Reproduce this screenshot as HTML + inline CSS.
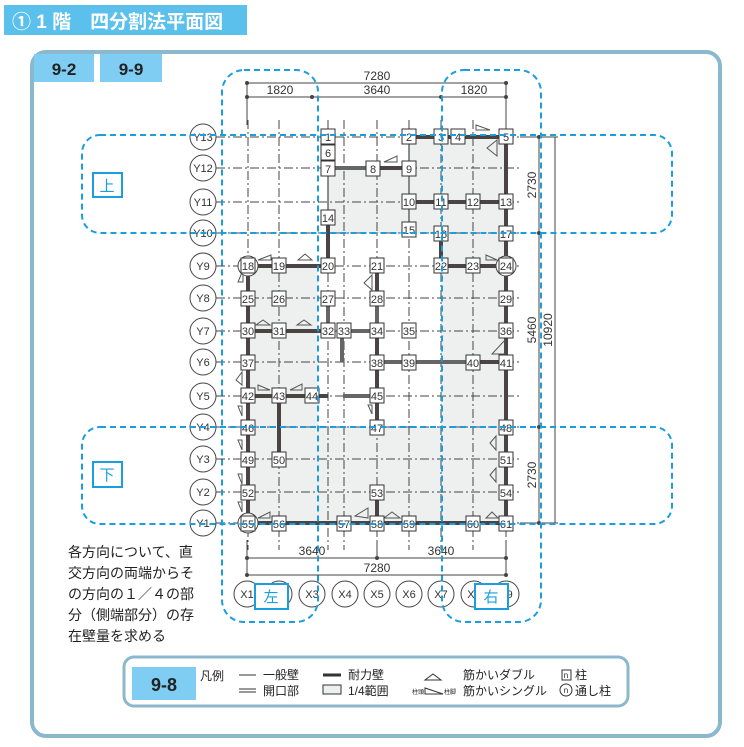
<!DOCTYPE html>
<html><head><meta charset="utf-8"><style>
body{margin:0;background:#fff;}
svg{display:block;font-family:"Liberation Sans","Noto Sans CJK JP",sans-serif;}
.g{stroke:#444;stroke-width:1;stroke-dasharray:9 3 2 3;fill:none}
.n rect{fill:#fff;stroke:#333;stroke-width:1}
.n text{font-size:11px;text-anchor:middle;fill:#333}
.w{stroke:#4a4444;stroke-width:4;fill:none}
.d{stroke:#666;stroke-width:4;fill:none}
.b{stroke:#1a9ee0;stroke-width:2;stroke-dasharray:6 4;fill:none}
.c circle{fill:#fff;stroke:#444;stroke-width:1}
.c text{font-size:11px;text-anchor:middle;fill:#333}
.dim{stroke:#444;stroke-width:1}
.dt{font-size:12px;fill:#333;text-anchor:middle}
.t{fill:none;stroke:#555;stroke-width:1}
</style></head><body>
<svg width="744" height="747" viewBox="0 0 744 747">
<rect x="4" y="5" width="243" height="30" fill="#5bc0eb"/>
<text x="12" y="28" font-size="19" font-weight="bold" fill="#fff">① 1 階　四分割法平面図</text>
<rect x="32" y="52" width="688" height="684" rx="14" fill="none" stroke="#8bb8cc" stroke-width="4"/>
<rect x="34" y="54" width="60" height="28" fill="#7fcdf2"/>
<rect x="100" y="54" width="62" height="28" fill="#7fcdf2"/>
<text x="64" y="75" font-size="17" font-weight="bold" text-anchor="middle" fill="#222">9-2</text>
<text x="131" y="75" font-size="17" font-weight="bold" text-anchor="middle" fill="#222">9-9</text>

<g fill="#eef0f0">
<polygon points="328,168 409,168 409,137 506,137 506,233 328,233"/>
<rect x="248" y="265" width="70" height="259"/>
<rect x="441" y="233" width="65" height="291"/>
<rect x="248" y="427" width="258" height="97"/>
</g>

<g class="g">
<line x1="248" y1="120" x2="248" y2="550"/><line x1="279" y1="120" x2="279" y2="550"/>
<line x1="328" y1="120" x2="328" y2="550"/><line x1="344" y1="120" x2="344" y2="550"/>
<line x1="377" y1="120" x2="377" y2="550"/><line x1="409" y1="120" x2="409" y2="550"/>
<line x1="441" y1="120" x2="441" y2="550"/><line x1="473" y1="120" x2="473" y2="550"/>
<line x1="506" y1="120" x2="506" y2="550"/>
<line x1="216" y1="137" x2="520" y2="137"/><line x1="216" y1="168" x2="520" y2="168"/>
<line x1="216" y1="202" x2="520" y2="202"/><line x1="216" y1="233" x2="520" y2="233"/>
<line x1="216" y1="266" x2="520" y2="266"/><line x1="216" y1="298" x2="520" y2="298"/>
<line x1="216" y1="331" x2="520" y2="331"/><line x1="216" y1="362" x2="520" y2="362"/>
<line x1="216" y1="396" x2="520" y2="396"/><line x1="216" y1="427" x2="520" y2="427"/>
<line x1="216" y1="459" x2="520" y2="459"/><line x1="216" y1="492" x2="520" y2="492"/>
<line x1="216" y1="523" x2="520" y2="523"/>
</g>

<g stroke="#444" stroke-width="1.2">
<line x1="409" y1="137" x2="409" y2="233"/><line x1="328" y1="168" x2="328" y2="217"/>
</g>
<g class="w">
<line x1="409" y1="137" x2="506" y2="137"/>
<line x1="373" y1="168" x2="409" y2="168"/>
<line x1="409" y1="202" x2="506" y2="202"/>
<line x1="506" y1="137" x2="506" y2="523"/>
<line x1="328" y1="217" x2="328" y2="266"/>
<line x1="441" y1="233" x2="441" y2="266"/>
<line x1="248" y1="266" x2="328" y2="266"/>
<line x1="441" y1="266" x2="506" y2="266"/>
<line x1="377" y1="266" x2="377" y2="298"/>
<line x1="377" y1="331" x2="377" y2="427"/>
<line x1="248" y1="266" x2="248" y2="523"/>
<line x1="248" y1="331" x2="328" y2="331"/>
<line x1="473" y1="362" x2="506" y2="362"/>
<line x1="248" y1="396" x2="328" y2="396"/>
<line x1="279" y1="396" x2="279" y2="459"/>
<line x1="248" y1="523" x2="506" y2="523"/>
<line x1="377" y1="492" x2="377" y2="523"/>
</g>
<g class="d">
<line x1="328" y1="168" x2="373" y2="168"/>
<line x1="377" y1="298" x2="377" y2="331"/>
<line x1="328" y1="298" x2="328" y2="331"/>
<line x1="344" y1="331" x2="377" y2="331"/>
<line x1="342" y1="331" x2="342" y2="362"/>
<line x1="377" y1="362" x2="473" y2="362"/>
<line x1="343" y1="396" x2="377" y2="396"/>
</g>

<g class="t">
<polygon points="476,130 490,130 476,125"/><polygon points="397,162 384,162 397,156"/>
<polygon points="497,140 497,156 487,148"/><polygon points="258,260 271,260 271,255"/>
<polygon points="298,260 312,260 305,254"/><polygon points="243,270 243,282 238,282"/>
<polygon points="372,275 372,290 364,283"/><polygon points="486,255 497,260 486,260"/>
<polygon points="256,325 270,325 263,320"/><polygon points="297,325 311,325 304,320"/>
<polygon points="492,354 505,354 505,340"/><polygon points="242,372 242,385 236,380"/>
<polygon points="258,385 270,390 258,390"/><polygon points="290,390 302,390 302,384"/>
<polygon points="372,405 372,414 368,405"/><polygon points="238,406 242,406 242,416"/>
<polygon points="238,440 242,440 242,450"/><polygon points="238,474 242,474 242,484"/>
<polygon points="238,502 242,502 242,512"/><polygon points="496,436 496,450 490,443"/>
<polygon points="496,468 496,482 490,475"/><polygon points="258,518 270,518 270,512"/>
<polygon points="355,516 368,518 368,508"/><polygon points="384,518 400,518 392,512"/>
<polygon points="486,518 498,518 492,512"/>
</g>

<g class="c">
<circle cx="203" cy="137" r="13"/><text x="203" y="141">Y13</text>
<circle cx="203" cy="168" r="13"/><text x="203" y="172">Y12</text>
<circle cx="203" cy="202" r="13"/><text x="203" y="206">Y11</text>
<circle cx="203" cy="233" r="13"/><text x="203" y="237">Y10</text>
<circle cx="203" cy="266" r="13"/><text x="203" y="270">Y9</text>
<circle cx="203" cy="298" r="13"/><text x="203" y="302">Y8</text>
<circle cx="203" cy="331" r="13"/><text x="203" y="335">Y7</text>
<circle cx="203" cy="362" r="13"/><text x="203" y="366">Y6</text>
<circle cx="203" cy="396" r="13"/><text x="203" y="400">Y5</text>
<circle cx="203" cy="427" r="13"/><text x="203" y="431">Y4</text>
<circle cx="203" cy="459" r="13"/><text x="203" y="463">Y3</text>
<circle cx="203" cy="492" r="13"/><text x="203" y="496">Y2</text>
<circle cx="203" cy="523" r="13"/><text x="203" y="527">Y1</text>
<circle cx="247" cy="594" r="13"/><text x="247" y="598">X1</text>
<circle cx="279" cy="594" r="13"/><text x="279" y="598">X2</text>
<circle cx="312" cy="594" r="13"/><text x="312" y="598">X3</text>
<circle cx="345" cy="594" r="13"/><text x="345" y="598">X4</text>
<circle cx="377" cy="594" r="13"/><text x="377" y="598">X5</text>
<circle cx="409" cy="594" r="13"/><text x="409" y="598">X6</text>
<circle cx="441" cy="594" r="13"/><text x="441" y="598">X7</text>
<circle cx="474" cy="594" r="13"/><text x="474" y="598">X8</text>
<circle cx="506" cy="594" r="13"/><text x="506" y="598">X9</text>
<circle cx="248" cy="266" r="10"/><circle cx="506" cy="266" r="10"/><circle cx="248" cy="523" r="10"/>
</g>

<g class="n">
<rect x="321" y="129" width="14" height="15"/><text x="328" y="141">1</text>
<rect x="402" y="129" width="14" height="15"/><text x="409" y="141">2</text>
<rect x="434" y="129" width="14" height="15"/><text x="441" y="141">3</text>
<rect x="451" y="129" width="14" height="15"/><text x="458" y="141">4</text>
<rect x="499" y="129" width="14" height="15"/><text x="506" y="141">5</text>
<rect x="321" y="145" width="14" height="15"/><text x="328" y="157">6</text>
<rect x="321" y="161" width="14" height="15"/><text x="328" y="173">7</text>
<rect x="366" y="161" width="14" height="15"/><text x="373" y="173">8</text>
<rect x="402" y="161" width="14" height="15"/><text x="409" y="173">9</text>
<rect x="402" y="194" width="14" height="15"/><text x="409" y="206">10</text>
<rect x="434" y="194" width="14" height="15"/><text x="441" y="206">11</text>
<rect x="466" y="194" width="14" height="15"/><text x="473" y="206">12</text>
<rect x="499" y="194" width="14" height="15"/><text x="506" y="206">13</text>
<rect x="321" y="210" width="14" height="15"/><text x="328" y="222">14</text>
<rect x="402" y="222" width="14" height="15"/><text x="409" y="234">15</text>
<rect x="434" y="226" width="14" height="15"/><text x="441" y="238">16</text>
<rect x="499" y="226" width="14" height="15"/><text x="506" y="238">17</text>
<rect x="241" y="258" width="14" height="15"/><text x="248" y="270">18</text>
<rect x="272" y="258" width="14" height="15"/><text x="279" y="270">19</text>
<rect x="321" y="258" width="14" height="15"/><text x="328" y="270">20</text>
<rect x="370" y="258" width="14" height="15"/><text x="377" y="270">21</text>
<rect x="434" y="258" width="14" height="15"/><text x="441" y="270">22</text>
<rect x="466" y="258" width="14" height="15"/><text x="473" y="270">23</text>
<rect x="499" y="258" width="14" height="15"/><text x="506" y="270">24</text>
<rect x="241" y="291" width="14" height="15"/><text x="248" y="303">25</text>
<rect x="272" y="291" width="14" height="15"/><text x="279" y="303">26</text>
<rect x="321" y="291" width="14" height="15"/><text x="328" y="303">27</text>
<rect x="370" y="291" width="14" height="15"/><text x="377" y="303">28</text>
<rect x="499" y="291" width="14" height="15"/><text x="506" y="303">29</text>
<rect x="241" y="323" width="14" height="15"/><text x="248" y="335">30</text>
<rect x="272" y="323" width="14" height="15"/><text x="279" y="335">31</text>
<rect x="321" y="323" width="14" height="15"/><text x="328" y="335">32</text>
<rect x="337" y="323" width="14" height="15"/><text x="344" y="335">33</text>
<rect x="370" y="323" width="14" height="15"/><text x="377" y="335">34</text>
<rect x="402" y="323" width="14" height="15"/><text x="409" y="335">35</text>
<rect x="499" y="323" width="14" height="15"/><text x="506" y="335">36</text>
<rect x="241" y="355" width="14" height="15"/><text x="248" y="367">37</text>
<rect x="370" y="355" width="14" height="15"/><text x="377" y="367">38</text>
<rect x="402" y="355" width="14" height="15"/><text x="409" y="367">39</text>
<rect x="466" y="355" width="14" height="15"/><text x="473" y="367">40</text>
<rect x="499" y="355" width="14" height="15"/><text x="506" y="367">41</text>
<rect x="241" y="388" width="14" height="15"/><text x="248" y="400">42</text>
<rect x="272" y="388" width="14" height="15"/><text x="279" y="400">43</text>
<rect x="305" y="388" width="14" height="15"/><text x="312" y="400">44</text>
<rect x="370" y="388" width="14" height="15"/><text x="377" y="400">45</text>
<rect x="241" y="420" width="14" height="15"/><text x="248" y="432">46</text>
<rect x="370" y="420" width="14" height="15"/><text x="377" y="432">47</text>
<rect x="499" y="420" width="14" height="15"/><text x="506" y="432">48</text>
<rect x="241" y="452" width="14" height="15"/><text x="248" y="464">49</text>
<rect x="272" y="452" width="14" height="15"/><text x="279" y="464">50</text>
<rect x="499" y="452" width="14" height="15"/><text x="506" y="464">51</text>
<rect x="241" y="485" width="14" height="15"/><text x="248" y="497">52</text>
<rect x="370" y="485" width="14" height="15"/><text x="377" y="497">53</text>
<rect x="499" y="485" width="14" height="15"/><text x="506" y="497">54</text>
<rect x="241" y="516" width="14" height="15"/><text x="248" y="528">55</text>
<rect x="272" y="516" width="14" height="15"/><text x="279" y="528">56</text>
<rect x="337" y="516" width="14" height="15"/><text x="344" y="528">57</text>
<rect x="370" y="516" width="14" height="15"/><text x="377" y="528">58</text>
<rect x="402" y="516" width="14" height="15"/><text x="409" y="528">59</text>
<rect x="466" y="516" width="14" height="15"/><text x="473" y="528">60</text>
<rect x="499" y="516" width="14" height="15"/><text x="506" y="528">61</text>
</g>

<g class="dim">
<line x1="247" y1="83" x2="506" y2="83"/><line x1="247" y1="97" x2="506" y2="97"/>
<line x1="247" y1="558" x2="506" y2="558"/><line x1="247" y1="575" x2="506" y2="575"/>
<line x1="539" y1="137" x2="539" y2="523"/><line x1="555" y1="137" x2="555" y2="523"/>
<line x1="247" y1="83" x2="247" y2="125"/><line x1="506" y1="83" x2="506" y2="125"/>
<line x1="247" y1="540" x2="247" y2="575"/><line x1="506" y1="540" x2="506" y2="575"/><line x1="377" y1="540" x2="377" y2="558"/>
<line x1="520" y1="137" x2="558" y2="137"/><line x1="520" y1="523" x2="558" y2="523"/>
</g>
<g fill="#444">
<circle cx="247" cy="83" r="2"/><circle cx="506" cy="83" r="2"/><circle cx="247" cy="97" r="2"/>
<circle cx="312" cy="97" r="2"/><circle cx="441" cy="97" r="2"/><circle cx="506" cy="97" r="2"/>
<circle cx="247" cy="558" r="2"/><circle cx="377" cy="558" r="2"/><circle cx="506" cy="558" r="2"/>
<circle cx="247" cy="575" r="2"/><circle cx="506" cy="575" r="2"/>
<circle cx="539" cy="137" r="2"/><circle cx="539" cy="233" r="2"/><circle cx="539" cy="427" r="2"/><circle cx="539" cy="523" r="2"/>
</g>
<text class="dt" x="377" y="80">7280</text>
<text class="dt" x="280" y="94">1820</text><text class="dt" x="377" y="94">3640</text><text class="dt" x="474" y="94">1820</text>
<text class="dt" x="312" y="555">3640</text><text class="dt" x="441" y="555">3640</text>
<text class="dt" x="377" y="572">7280</text>
<text class="dt" transform="translate(536,185) rotate(-90)">2730</text>
<text class="dt" transform="translate(536,330) rotate(-90)">5460</text>
<text class="dt" transform="translate(536,475) rotate(-90)">2730</text>
<text class="dt" transform="translate(552,330) rotate(-90)">10920</text>

<rect class="b" x="82" y="135" width="590" height="98" rx="18"/>
<rect class="b" x="82" y="427" width="590" height="97" rx="18"/>
<rect class="b" x="222" y="70" width="96" height="552" rx="22"/>
<rect class="b" x="442" y="70" width="99" height="552" rx="22"/>
<g fill="#fff" stroke="#1a9ee0" stroke-width="2">
<rect x="93" y="173" width="29" height="24"/><rect x="93" y="462" width="29" height="25"/>
<rect x="255" y="584" width="33" height="25"/><rect x="475" y="584" width="33" height="25"/>
</g>
<g fill="#1a9ee0" font-size="15" text-anchor="middle">
<text x="107" y="191">上</text><text x="107" y="480">下</text>
<text x="271" y="602">左</text><text x="491" y="602">右</text>
</g>

<g font-size="14" fill="#222">
<text x="68" y="557">各方向について、直</text>
<text x="68" y="578">交方向の両端からそ</text>
<text x="68" y="599">の方向の１／４の部</text>
<text x="68" y="620">分（側端部分）の存</text>
<text x="68" y="641">在壁量を求める</text>
</g>

<rect x="124" y="657" width="504" height="49" rx="10" fill="#fff" stroke="#8bb8cc" stroke-width="3"/>
<rect x="132" y="667" width="64" height="33" fill="#7fcdf2"/>
<text x="164" y="691" font-size="18" font-weight="bold" text-anchor="middle" fill="#222">9-8</text>
<g font-size="12" fill="#222">
<text x="200" y="680">凡例</text>
<text x="263" y="679">一般壁</text><text x="263" y="695">開口部</text>
<text x="348" y="679">耐力壁</text><text x="348" y="695">1/4範囲</text>
<text x="463" y="679">筋かいダブル</text><text x="463" y="695">筋かいシングル</text>
<text x="575" y="679">柱</text><text x="575" y="695">通し柱</text>
<text x="412" y="694" font-size="6">柱頭</text><text x="444" y="694" font-size="6">柱脚</text>
</g>
<g stroke="#333">
<line x1="239" y1="675" x2="256" y2="675"/>
<line x1="239" y1="689" x2="256" y2="689"/><line x1="239" y1="692" x2="256" y2="692"/>
<line x1="323" y1="675" x2="341" y2="675" stroke-width="3"/>
<rect x="323" y="685" width="18" height="9" fill="#eef0f0"/>
<polygon points="425,680 441,680 433,674" fill="none"/>
<polygon points="425,694 443,694 425,688" fill="none"/>
<rect x="562" y="670" width="9" height="10" fill="none"/>
<circle cx="566" cy="690" r="6" fill="none"/>
</g>
<text x="566" y="678" font-size="8" text-anchor="middle" fill="#222">n</text>
<text x="566" y="693" font-size="8" text-anchor="middle" fill="#222">n</text>
</svg>
</body></html>
